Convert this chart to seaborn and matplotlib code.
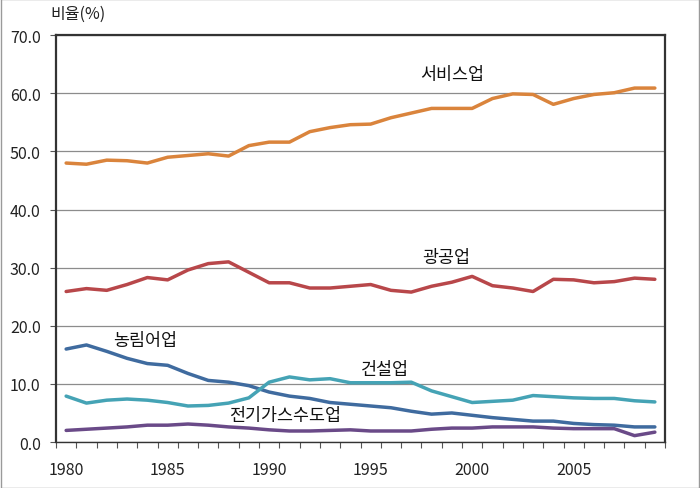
import numpy as np
import pandas as pd
import matplotlib
matplotlib.use('Agg')
import matplotlib.pyplot as plt
import seaborn as sns
from matplotlib.ticker import FixedLocator, FormatStrFormatter

years = list(range(1980, 2010))

service = [48.0, 47.8, 48.5, 48.4, 48.0, 49.0, 49.3, 49.6, 49.2, 51.0,
           51.6, 51.6, 53.4, 54.1, 54.6, 54.7, 55.8, 56.6, 57.4, 57.4,
           57.4, 59.1, 59.9, 59.8, 58.1, 59.1, 59.8, 60.1, 60.9, 60.9]
mining_mfg = [25.9, 26.4, 26.1, 27.1, 28.3, 27.9, 29.6, 30.7, 31.0, 29.2,
              27.4, 27.4, 26.5, 26.5, 26.8, 27.1, 26.1, 25.8, 26.8, 27.5,
              28.5, 26.9, 26.5, 25.9, 28.0, 27.9, 27.4, 27.6, 28.2, 28.0]
agri = [16.0, 16.7, 15.6, 14.4, 13.5, 13.2, 11.8, 10.6, 10.3, 9.7,
        8.6, 7.9, 7.5, 6.8, 6.5, 6.2, 5.9, 5.3, 4.8, 5.0,
        4.6, 4.2, 3.9, 3.6, 3.6, 3.2, 3.0, 2.9, 2.6, 2.6]
construction = [7.9, 6.7, 7.2, 7.4, 7.2, 6.8, 6.2, 6.3, 6.7, 7.6,
                10.3, 11.2, 10.7, 10.9, 10.2, 10.2, 10.2, 10.3, 8.8, 7.8,
                6.8, 7.0, 7.2, 8.0, 7.8, 7.6, 7.5, 7.5, 7.1, 6.9]
utility = [2.0, 2.2, 2.4, 2.6, 2.9, 2.9, 3.1, 2.9, 2.6, 2.4,
           2.1, 1.9, 1.9, 2.0, 2.1, 1.9, 1.9, 1.9, 2.2, 2.4,
           2.4, 2.6, 2.6, 2.6, 2.4, 2.3, 2.3, 2.3, 1.1, 1.7]

names = ['서비스업', '광공업', '농림어업', '건설업', '전기가스수도업']
colors = ['#DA843C', '#B8474A', '#3F6B9F', '#45A3B5', '#6A4A88']

df = pd.DataFrame({'year': years * 5,
                   'value': service + mining_mfg + agri + construction + utility,
                   'sector': sum([[n] * len(years) for n in names], [])})

sns.set_style('white')
plt.rcParams['font.family'] = ['Noto Sans CJK KR', 'DejaVu Sans']

fig = plt.figure(figsize=(7, 4.89), dpi=100)
ax = fig.add_axes([0.08, 0.094, 0.87, 0.832])

sns.lineplot(data=df, x='year', y='value', hue='sector', palette=colors,
             linewidth=2.5, legend=False, ax=ax)

ax.set_xlim(1979.5, 2009.5)
ax.set_ylim(0, 70)
ax.set_yticks(np.arange(0, 71, 10))
ax.yaxis.set_major_formatter(FormatStrFormatter('%.1f'))
ax.grid(axis='y', color='#8c8c8c', linewidth=0.9)
ax.set_axisbelow(True)

ax.set_xticks(range(1980, 2006, 5))
ax.xaxis.set_minor_locator(FixedLocator(np.arange(1979.5, 2010, 1)))
ax.tick_params(axis='x', which='major', length=0, pad=14, labelsize=11.5, colors='#222222')
ax.tick_params(axis='x', which='minor', length=4, width=0.8, direction='out', color='#555555', bottom=True)
ax.tick_params(axis='y', which='major', length=4, width=0.8, direction='out', color='#555555',
               left=True, pad=7, labelsize=11.5, colors='#222222')
ax.set_xlabel('')
ax.set_ylabel('')

for s in ax.spines.values():
    s.set_color('#333333')
    s.set_linewidth(1.6)
ax.spines['bottom'].set_linewidth(1.0)

ax.text(1979.2, 72.3, '비율(%)', fontsize=11.5, ha='left', va='bottom', color='#222222')

label_pos = [(1999.0, 63.4), (1998.7, 31.9), (1983.9, 17.6), (1995.7, 12.6), (1990.8, 4.7)]
for name, (lx, ly) in zip(names, label_pos):
    ax.text(lx, ly, name, fontsize=12.5, ha='center', va='center', color='#111111')

fig.add_artist(plt.Rectangle((0.001, 0.001), 0.998, 0.998, transform=fig.transFigure,
                             fill=False, edgecolor='#9a9a9a', linewidth=1))

fig.savefig('out.png', dpi=100)
